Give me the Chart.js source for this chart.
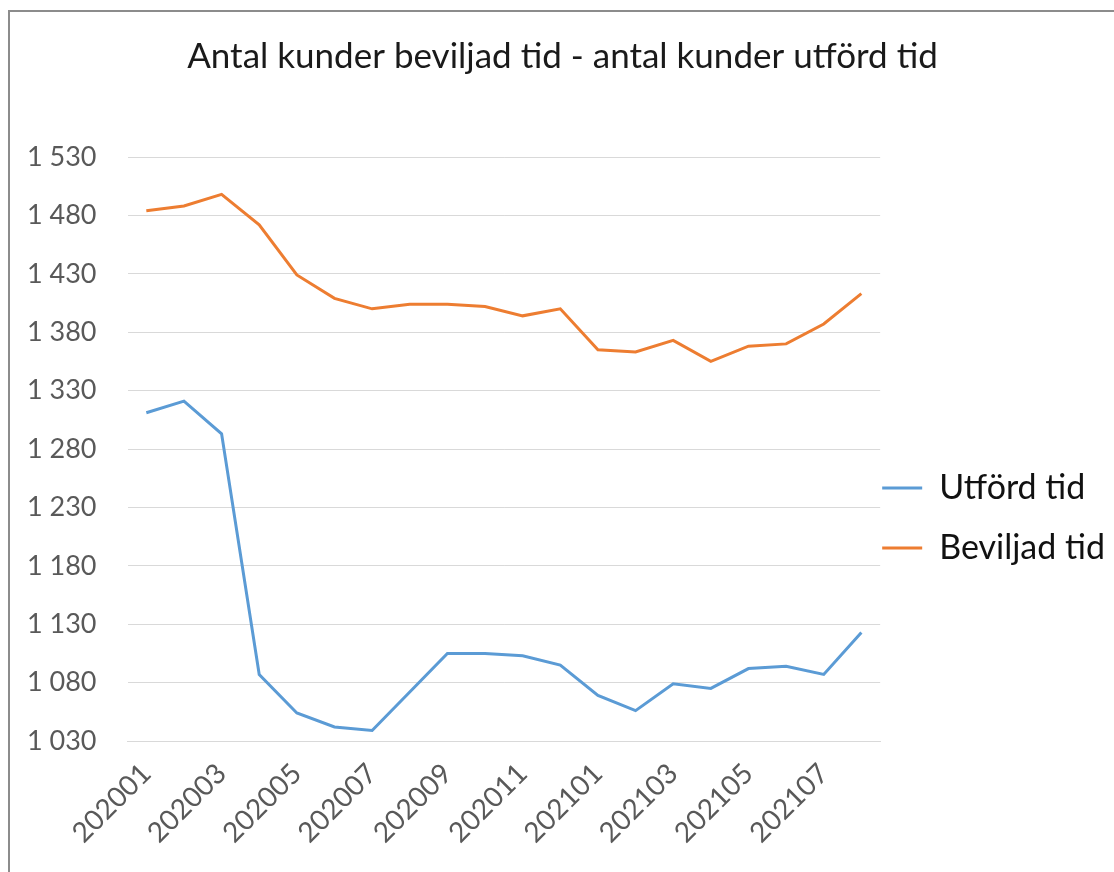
<!DOCTYPE html>
<html>
<head>
<meta charset="utf-8">
<script src="https://cdn.jsdelivr.net/npm/chart.js@4"></script>
<style>
  html, body { margin: 0; padding: 0; background: #fff; overflow: hidden; }
  .chart-box {
    position: absolute;
    left: 8px;
    top: 10px;
    width: 1120px;
    height: 1036px;
    border-left: 2px solid #8c8c8c;
    border-top: 2px solid #8c8c8c;
  }
</style>
</head>
<body>
<div class="chart-box"><canvas id="kunderChart"></canvas></div>
<script>
// Months on the x axis
const months = [
  '202001', '202002', '202003', '202004', '202005', '202006',
  '202007', '202008', '202009', '202010', '202011', '202012',
  '202101', '202102', '202103', '202104', '202105', '202106',
  '202107', '202108'
];

// Series values
const utfordTid = [1311, 1321, 1293, 1087, 1054, 1042, 1039, 1072, 1105, 1105,
                   1103, 1095, 1069, 1056, 1079, 1075, 1092, 1094, 1087, 1123];
const beviljadTid = [1484, 1488, 1498, 1472, 1429, 1409, 1400, 1404, 1404, 1402,
                     1394, 1400, 1365, 1363, 1373, 1355, 1368, 1370, 1387, 1413];

// Y axis ticks
const yMin = 1030;
const yMax = 1530;
const yStep = 50;

const FONT = "Lato, 'Open Sans', sans-serif";

// "1 530" style labels
function formatNumber(v) {
  return String(v).replace(/\B(?=(\d{3})+(?!\d))/g, ' ');
}

document.addEventListener('DOMContentLoaded', function() {
  const ctx = document.getElementById('kunderChart').getContext('2d');
  const defaultLabels = Chart.defaults.plugins.legend.labels.generateLabels;

  new Chart(ctx, {
    type: 'line',
    data: {
      labels: months,
      datasets: [
        {
          label: 'Utförd tid',
          data: utfordTid,
          borderColor: '#5B9BD5',
          backgroundColor: '#5B9BD5',
          borderWidth: 3,
          pointRadius: 0,
          pointStyle: 'line',
          tension: 0
        },
        {
          label: 'Beviljad tid',
          data: beviljadTid,
          borderColor: '#ED7D31',
          backgroundColor: '#ED7D31',
          borderWidth: 3,
          pointRadius: 0,
          pointStyle: 'line',
          tension: 0
        }
      ]
    },
    options: {
      responsive: true,
      maintainAspectRatio: false,
      animation: false,
      layout: {
        padding: { left: 0, right: 15, top: 0, bottom: 0 }
      },
      plugins: {
        title: {
          display: true,
          text: 'Antal kunder beviljad tid - antal kunder utförd tid',
          color: '#1a1a1a',
          font: { family: FONT, size: 35, weight: 'normal', lineHeight: 1.2 },
          padding: { top: 24, bottom: 79 }
        },
        legend: {
          display: true,
          position: 'right',
          labels: {
            color: '#111',
            font: { family: FONT, size: 34, lineHeight: 1.706 },
            usePointStyle: true,
            pointStyleWidth: 40,
            padding: 2,
            // wrap text in array so the item height follows the font line height
            generateLabels: function(chart) {
              return defaultLabels(chart).map(item => Object.assign(item, { text: [item.text] }));
            }
          }
        },
        tooltip: { enabled: false }
      },
      scales: {
        x: {
          offset: true,
          grid: { display: false },
          border: { display: true, color: '#d9d9d9', width: 1 },
          ticks: {
            color: '#595959',
            font: { family: FONT, size: 28 },
            autoSkip: false,
            minRotation: 45,
            maxRotation: 45,
            padding: 8,
            callback: function(value, index) {
              return index % 2 === 0 ? months[index] : null;
            }
          },
          afterFit: function(scale) {
            scale.height = 307;
          }
        },
        y: {
          min: yMin,
          max: yMax,
          grid: { color: '#d9d9d9', lineWidth: 1, drawTicks: false },
          border: { display: false },
          ticks: {
            stepSize: yStep,
            color: '#595959',
            font: { family: FONT, size: 27 },
            padding: 31,
            callback: function(value) {
              return formatNumber(value);
            }
          },
          afterFit: function(scale) {
            scale.width = 117.5;
          }
        }
      }
    }
  });
});
</script>
</body>
</html>
